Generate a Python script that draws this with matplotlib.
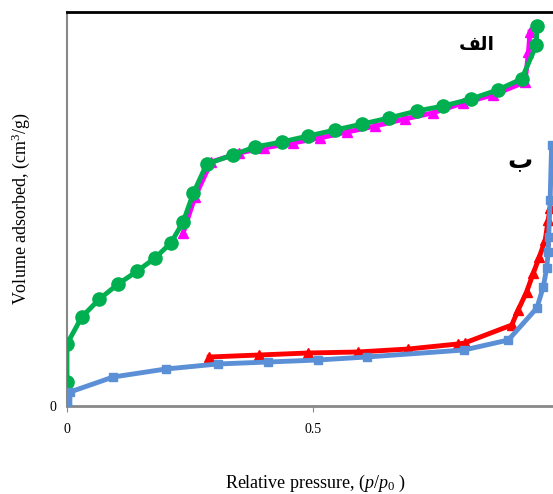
import matplotlib.pyplot as plt

plt.rcParams['mathtext.fontset'] = 'custom'
plt.rcParams['mathtext.it'] = 'Liberation Serif:italic'
plt.rcParams['mathtext.rm'] = 'Liberation Serif'

# sample a (الف): adsorption / desorption
p_ads_a = [0.0, 0.0, 0.030, 0.066, 0.104, 0.143, 0.179, 0.211, 0.236, 0.257, 0.284,
           0.337, 0.382, 0.436, 0.490, 0.545, 0.600, 0.654, 0.711, 0.765, 0.821,
           0.875, 0.924, 0.954, 0.955]
v_ads_a = [24, 62, 89, 107, 122, 135, 148, 163, 184, 213, 242,
           251, 259, 264, 270, 276, 282, 288, 295, 300, 307,
           316, 327, 361, 380]
p_des_a = [0.941, 0.938, 0.931, 0.866, 0.805, 0.743, 0.686, 0.627, 0.570, 0.514,
           0.459, 0.400, 0.350, 0.293, 0.260, 0.236]
v_des_a = [374, 354, 324, 311, 303, 293, 287, 280, 274, 268,
           263, 258, 253, 244, 209, 173]

# sample b (ب)
p_ads_b = [0.0, 0.0, 0.0, 0.006, 0.094, 0.201, 0.306, 0.409, 0.510, 0.609,
           0.807, 0.897, 0.955, 0.968, 0.975, 0.978, 0.979, 0.982, 0.985]
v_ads_b = [0, 5, 9, 14, 29, 37, 42, 44, 46, 49,
           56, 66, 98, 119, 138, 154, 169, 206, 261]
p_des_b = [0.982, 0.978, 0.972, 0.960, 0.948, 0.934, 0.917, 0.904, 0.808, 0.794,
           0.694, 0.591, 0.490, 0.390, 0.289]
v_des_b = [198, 186, 166, 149, 133, 114, 96, 81, 63, 62,
           57, 54, 53, 51, 49]

fig = plt.figure(figsize=(5.53, 4.94), dpi=100)
ax = fig.add_axes([67/553, 88/494, 1 - 67/553, 394/494])

ax.plot(p_des_a, v_des_a, color='#FF00FF', lw=3.5, marker='^', ms=7, zorder=2)
ax.plot(p_ads_a, v_ads_a, color='#00B050', lw=3.5, marker='o', ms=9.5, zorder=3)
ax.plot(p_des_b, v_des_b, color='#FF0000', lw=3.5, marker='^', ms=7, zorder=2)
ax.plot(p_ads_b, v_ads_b, color='#5B8FD6', lw=3.5, marker='s', ms=6, zorder=3)

ax.set_xlim(0, 486/492)
ax.set_ylim(0, 394)
ax.set_xticks([0, 0.5])
ax.set_xticklabels(['0', '0.5'], fontfamily='Liberation Serif', fontsize=10)
ax.set_yticks([0])
ax.set_yticklabels(['0'], fontfamily='Liberation Serif', fontsize=10)
ax.tick_params(axis='x', length=4, color='#888888', pad=8)
ax.tick_params(axis='y', length=0, pad=8)

ax.spines['right'].set_visible(False)
ax.spines['top'].set_color('black')
ax.spines['top'].set_linewidth(2)
ax.spines['left'].set_color('#888888')
ax.spines['left'].set_linewidth(1.5)
ax.spines['bottom'].set_color('#888888')
ax.spines['bottom'].set_linewidth(2)

fig.text(315/553, 1 - 483/494, 'Relative pressure, ($p$/$p_0$ )',
         fontfamily='Liberation Serif', fontsize=13, ha='center', va='center')
fig.text(21/553, 1 - 209/494, 'Volume adsorbed, (cm$^3$/g)',
         fontfamily='Liberation Serif', fontsize=13, ha='center', va='center',
         rotation=90)

# "الف" and "ب" written in visual (shaped) order
ax.text(0.833, 362, '\ufed2\ufedf\ufe8d', fontsize=13.5, fontweight='bold',
        fontfamily='DejaVu Sans', ha='center', va='center')
ax.text(0.921, 245, '\ufe8f', fontsize=18, fontweight='bold',
        fontfamily='DejaVu Sans', ha='center', va='center')

fig.savefig('out.png', dpi=100)
